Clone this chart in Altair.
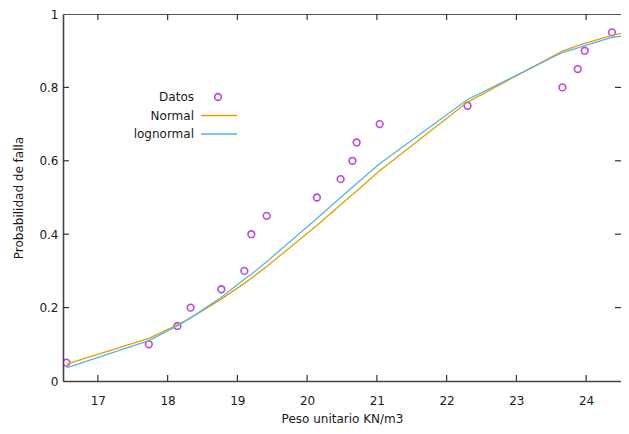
import altair as alt
import pandas as pd

# ---- data ----
x_data = [16.55, 17.73, 18.14, 18.33, 18.77, 19.10, 19.20, 19.42, 20.14,
          20.48, 20.65, 20.71, 21.04, 22.30, 23.66, 23.88, 23.98, 24.37]
p_data = [0.05, 0.10, 0.15, 0.20, 0.25, 0.30, 0.40, 0.45, 0.50,
          0.55, 0.60, 0.65, 0.70, 0.75, 0.80, 0.85, 0.90, 0.95]

x_fit = [16.55, 17.73, 18.14, 18.33, 18.77, 19.10, 19.20, 19.42, 20.14,
         20.48, 20.65, 20.71, 21.04, 22.30, 23.66, 23.88, 23.98, 24.37, 24.50]
p_normal = [0.046, 0.116, 0.153, 0.172, 0.223, 0.266, 0.280, 0.312, 0.424,
            0.480, 0.508, 0.518, 0.573, 0.760, 0.899, 0.914, 0.920, 0.942, 0.947]
p_lognormal = [0.036, 0.110, 0.150, 0.172, 0.228, 0.277, 0.291, 0.325, 0.443,
               0.500, 0.528, 0.538, 0.592, 0.767, 0.895, 0.908, 0.914, 0.936, 0.940]

x_ticks = [17, 18, 19, 20, 21, 22, 23, 24]
y_ticks = [0.2, 0.4, 0.6, 0.8]
y_labels = [0, 0.2, 0.4, 0.6, 0.8, 1]

series = ["Normal", "lognormal"]
legend_labels = ["Datos", "Normal", "lognormal"]
colors = {"Datos": "#9400d3", "Normal": "#e69f00", "lognormal": "#56b4e9"}

FONT = "DejaVu Sans"
W, H = 558, 367

xs = alt.Scale(domain=[16.5, 24.5], nice=False, zero=False)
ys = alt.Scale(domain=[0, 1], nice=False, zero=False)

X_TITLE = "Peso unitario KN/m3"
Y_TITLE = "Probabilidad de falla"

def X(field="x"):
    return alt.X(f"{field}:Q", scale=xs, title=X_TITLE,
                 axis=alt.Axis(values=x_ticks, format="d", title=X_TITLE))

def Y(field="p"):
    return alt.Y(f"{field}:Q", scale=ys, title=Y_TITLE,
                 axis=alt.Axis(values=y_labels, title=Y_TITLE,
                               labelExpr="datum.value == 0 ? '0' : datum.value == 1 ? '1' : format(datum.value, '.1f')"))

df_pts = pd.DataFrame({"x": x_data, "p": p_data})
n = len(x_fit)
df_lines = pd.DataFrame({
    "x": x_fit + x_fit,
    "p": p_normal + p_lognormal,
    "serie": [series[0]] * n + [series[1]] * n,
})

points = alt.Chart(df_pts).mark_point(
    shape="circle", filled=False, size=45, strokeWidth=1.6, color=colors["Datos"], clip=True
).encode(x=X(), y=Y())

lines = alt.Chart(df_lines).mark_line(strokeWidth=1.3, clip=True).encode(
    x=X(), y=Y(),
    color=alt.Color("serie:N", scale=alt.Scale(domain=series,
                    range=[colors[s] for s in series]), legend=None),
)

# gnuplot-style inward ticks on all four sides
df_xt = pd.DataFrame({"x": x_ticks})
df_yt = pd.DataFrame({"p": y_ticks})
tick_col = "#333333"
xt_bottom = alt.Chart(df_xt).mark_rule(color=tick_col, strokeWidth=1.2).encode(
    x=X(), y=alt.value(H - 6), y2=alt.value(H))
xt_top = alt.Chart(df_xt).mark_rule(color=tick_col, strokeWidth=1.2).encode(
    x=X(), y=alt.value(0), y2=alt.value(6))
yt_left = alt.Chart(df_yt).mark_rule(color=tick_col, strokeWidth=1.2).encode(
    y=Y(), x=alt.value(0), x2=alt.value(6))
yt_right = alt.Chart(df_yt).mark_rule(color=tick_col, strokeWidth=1.2).encode(
    y=Y(), x=alt.value(W - 6), x2=alt.value(W))

# gnuplot-style key: labels right-aligned, samples to their right
LX, LY, LDY = 131, 83, 18.5
key_layers = []
for i, lab in enumerate(legend_labels):
    key_layers.append(
        alt.Chart(pd.DataFrame({"t": [lab]})).mark_text(
            align="right", baseline="middle", font=FONT, fontSize=12, color="#1a1a1a"
        ).encode(text="t:N", x=alt.value(LX), y=alt.value(LY + i * LDY))
    )
key_layers.append(
    alt.Chart(pd.DataFrame({"t": [0]})).mark_point(
        shape="circle", filled=False, size=45, strokeWidth=1.6, color=colors["Datos"]
    ).encode(x=alt.value(LX + 24), y=alt.value(LY))
)
for i, s in enumerate(series, start=1):
    key_layers.append(
        alt.Chart(pd.DataFrame({"t": [0]})).mark_rule(
            color=colors[s], strokeWidth=1.3
        ).encode(x=alt.value(LX + 7), x2=alt.value(LX + 43), y=alt.value(LY + i * LDY))
    )

chart = alt.layer(points, lines, xt_bottom, xt_top, yt_left, yt_right, *key_layers).properties(
    width=W, height=H,
    padding={"left": 55, "top": 6, "right": 0, "bottom": 45},
    autosize=alt.AutoSizeParams(type="none"),
    background="white",
).configure_view(
    stroke="#555555", strokeWidth=1
).configure_axis(
    grid=False, ticks=False, tickSize=0,
    domainColor="#444444", domainWidth=1.6,
    labelFont=FONT, labelFontSize=12, labelColor="#1a1a1a",
    titleFont=FONT, titleFontSize=12, titleColor="#1a1a1a", titleFontWeight="normal",
).configure_axisX(
    labelPadding=14, titlePadding=7,
).configure_axisY(
    labelPadding=5, titlePadding=13,
)

chart.save("out.html", embed_options={"renderer": "svg", "actions": False})
